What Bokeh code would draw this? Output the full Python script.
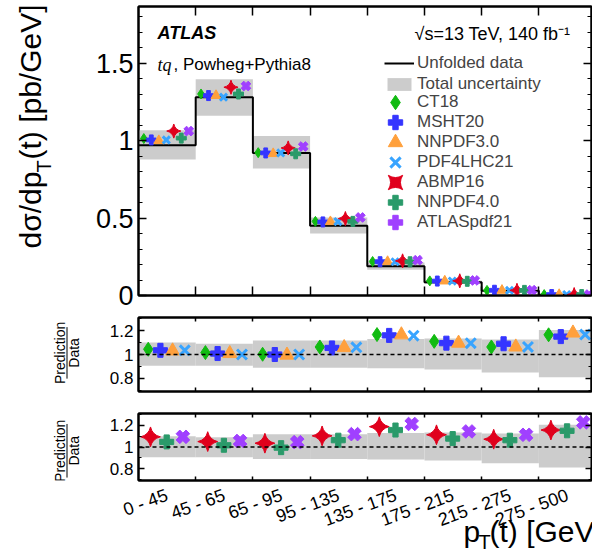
import numpy as np
from bokeh.plotting import figure
from bokeh.models import (ColumnDataSource, Range1d, FixedTicker, LinearAxis, Label,
                          Legend, LegendItem, Span, CustomJSTickFormatter)
from bokeh.layouts import column, row
from bokeh.embed import file_html
from bokeh.resources import INLINE
from bokeh.core.properties import value

# ---------------- data ----------------
bins = ["0 - 45", "45 - 65", "65 - 95", "95 - 135", "135 - 175", "175 - 215", "215 - 275", "275 - 500"]
data = [0.97, 1.28, 0.92, 0.45, 0.188, 0.085, 0.031, 0.005]
unc_up = [0.100, 0.090, 0.118, 0.118, 0.130, 0.135, 0.125, 0.206]
unc_dn = [0.095, 0.094, 0.110, 0.110, 0.115, 0.125, 0.150, 0.190]

pdf_names = ["CT18", "MSHT20", "NNPDF3.0", "PDF4LHC21", "ABMP16", "NNPDF4.0", "ATLASpdf21"]
ratio_ct18 = [1.044, 1.016, 1.002, 1.063, 1.167, 1.110, 1.063, 1.165]
ratio_msht20 = [1.035, 1.008, 1.000, 1.055, 1.160, 1.095, 1.090, 1.150]
ratio_nnpdf30 = [1.030, 1.008, 0.995, 1.058, 1.165, 1.095, 1.063, 1.180]
ratio_pdf4lhc21 = [1.035, 1.000, 1.000, 1.060, 1.158, 1.095, 1.063, 1.167]
ratio_abmp16 = [1.094, 1.050, 1.035, 1.103, 1.188, 1.113, 1.072, 1.157]
ratio_nnpdf40 = [1.047, 1.016, 0.994, 1.063, 1.157, 1.078, 1.063, 1.150]
ratio_atlaspdf21 = [1.094, 1.056, 1.045, 1.119, 1.213, 1.144, 1.113, 1.228]
ratios = [ratio_ct18, ratio_msht20, ratio_nnpdf30, ratio_pdf4lhc21,
          ratio_abmp16, ratio_nnpdf40, ratio_atlaspdf21]

main_ticks = [0, 0.5, 1, 1.5]
main_minor = [0.1, 0.2, 0.3, 0.4, 0.6, 0.7, 0.8, 0.9, 1.1, 1.2, 1.3, 1.4, 1.6, 1.7, 1.8]
ratio_ticks = [0.8, 1, 1.2]
ratio_minor = [0.7, 0.9, 1.1, 1.3]

# ---------------- style / layout ----------------
FONT = "Liberation Sans"
TW = 90            # width of the left title strip
PW = 502           # width of each panel figure
BL = 48            # panel left border (frame starts at TW+BL)
FW = 453           # frame width
X_END = 7.92
PX_PER_BIN = FW / X_END

styles = [
    dict(marker="diamond", color="#12bb12", angle=0.0, lw=1, fill=True),
    dict(marker="plus", color="#3535ff", angle=0.0, lw=1, fill=True),
    dict(marker="triangle", color="#ffa03c", angle=0.0, lw=1, fill=True),
    dict(marker="x", color="#38a4ff", angle=0.0, lw=3, fill=False),
    dict(marker="square_pin", color="#e0001c", angle=np.pi / 4, lw=1, fill=True),
    dict(marker="plus", color="#2a9a6a", angle=0.0, lw=1, fill=True),
    dict(marker="plus", color="#a040ff", angle=np.pi / 4, lw=1, fill=True),
]

n = len(bins)
edges = np.arange(n + 1, dtype=float)
left = edges[:-1]
data_a = np.array(data)
up_a = np.array(unc_up)
dn_a = np.array(unc_dn)


def style_axis(ax, ticks, minor, tl, ml, labels=False, fs="27px", standoff=5):
    ax.ticker = FixedTicker(ticks=list(ticks), minor_ticks=list(minor))
    ax.major_tick_in = tl
    ax.major_tick_out = 0
    ax.minor_tick_in = ml
    ax.minor_tick_out = 0
    ax.axis_line_width = 2
    ax.axis_line_color = "black"
    ax.major_tick_line_width = 1.5
    ax.minor_tick_line_width = 1.2
    ax.major_tick_line_color = "black"
    ax.minor_tick_line_color = "black"
    if labels:
        ax.formatter = CustomJSTickFormatter(code="return String(Math.round(tick*100)/100);")
        ax.major_label_text_font = FONT
        ax.major_label_text_font_size = fs
        ax.major_label_text_color = "black"
        ax.major_label_standoff = standoff
    else:
        ax.major_label_text_font_size = "0px"
        ax.major_label_standoff = 0
        ax.formatter = CustomJSTickFormatter(code="return '';")


def make_fig(height, yr, bt, bb, xtl, ytl, ymtl, yticks, yminor, yfs):
    p = figure(width=PW, height=height, x_range=Range1d(0, X_END), y_range=Range1d(*yr),
               output_backend="svg", toolbar_location=None,
               min_border_left=BL, min_border_right=1, min_border_top=bt, min_border_bottom=bb)
    p.xgrid.grid_line_color = None
    p.ygrid.grid_line_color = None
    p.outline_line_color = "black"
    p.outline_line_width = 2
    p.background_fill_color = "white"
    p.border_fill_color = "white"
    style_axis(p.xaxis[0], edges[1:-1], [], xtl, 0)
    style_axis(p.yaxis[0], yticks, yminor, ytl, ymtl, labels=True, fs=yfs)
    top = LinearAxis()
    style_axis(top, edges[1:-1], [], xtl, 0)
    p.add_layout(top, "above")
    right = LinearAxis()
    style_axis(right, yticks, yminor, ytl, ymtl)
    p.add_layout(right, "right")
    return p


def helper_fig(width, height, xr=None):
    f = figure(width=width, height=height,
               x_range=xr if xr is not None else Range1d(0, width), y_range=Range1d(0, height),
               x_axis_location=None, y_axis_location=None, output_backend="svg",
               toolbar_location=None, min_border=0, outline_line_color=None)
    f.grid.visible = False
    f.background_fill_color = "white"
    f.border_fill_color = "white"
    return f


def add_markers(p, idxs, fracs, size, use_ratio):
    out = []
    for k, i in enumerate(idxs):
        st = styles[i]
        xs = left + fracs[k]
        ys = np.array(ratios[i]) * (1.0 if use_ratio else data_a)
        src = ColumnDataSource(dict(x=xs, y=ys))
        r = p.scatter("x", "y", source=src, marker=st["marker"], size=size, angle=st["angle"],
                      fill_color=st["color"] if st["fill"] else None, line_color=st["color"],
                      line_width=st["lw"] if not st["fill"] else 1)
        out.append(r)
    return out


def lab(p, text, x, y, fs, font=FONT, style="normal", angle=0.0, align="left", baseline="middle"):
    p.add_layout(Label(text=text, x=x, y=y, x_units="screen", y_units="screen",
                       text_font=font, text_font_size=fs, text_font_style=style,
                       angle=angle, text_align=align, text_baseline=baseline, text_color="black"))


# ---------------- main panel ----------------
H1 = 310
p1 = make_fig(H1, (0, 1.865), 6, 15, 9, 8, 4, main_ticks, main_minor, "27px")
band_src = ColumnDataSource(dict(left=left, right=edges[1:], bottom=data_a * (1 - dn_a), top=data_a * (1 + up_a)))
band = p1.quad(left="left", right="right", bottom="bottom", top="top", source=band_src,
               fill_color="#cccccc", line_color=None)
step = p1.step(x=list(edges), y=list(data) + [data[-1]], mode="after", line_color="black", line_width=2)

fr_main = [0.093 + 0.131 * i for i in range(7)]
rends = add_markers(p1, list(range(7)), fr_main, 10, False)

leg_common = dict(padding=0, margin=0, border_line_color=None, background_fill_alpha=0,
                  label_text_font=FONT, label_text_font_size="17px")
legA = Legend(items=[LegendItem(label="Unfolded data", renderers=[step]),
                     LegendItem(label="Total uncertainty", renderers=[band])],
              location=(246, 201), glyph_width=30, glyph_height=16, label_height=21, spacing=0,
              label_standoff=3, **leg_common)
legB1 = Legend(items=[LegendItem(label=pdf_names[i], renderers=[rends[i]]) for i in (0, 2, 4, 6)],
               location=(239, 55), glyph_width=36, glyph_height=36, label_height=36, spacing=4,
               label_standoff=4, **leg_common)
legB2 = Legend(items=[LegendItem(label=pdf_names[i], renderers=[rends[i]]) for i in (1, 3, 5)],
               location=(239, 75), glyph_width=36, glyph_height=36, label_height=36, spacing=4,
               label_standoff=4, **leg_common)
for lg in (legA, legB1, legB2):
    p1.add_layout(lg)

lab(p1, "ATLAS", 19, 263, "18px", style="bold italic")
lab(p1, "tq", 19, 231, "18px", font="Liberation Serif", style="italic")
lab(p1, ", Powheg+Pythia8", 35, 231, "17px")
lab(p1, "√s=13 TeV, 140 fb⁻¹", 276, 262, "18px")

t1 = helper_fig(TW, H1)
lab(t1, "dσ/dp", 30, H1 - 263, "30px", angle=np.pi / 2)
lab(t1, "T", 43, H1 - 263 + 76, "20px", angle=np.pi / 2)
lab(t1, "(t)  [pb/GeV]", 30, H1 - 263 + 89, "30px", angle=np.pi / 2)


# ---------------- ratio panels ----------------
def ratio_panel(height, bt, bb, idxs, fracs):
    p = make_fig(height, (0.69, 1.31), bt, bb, 4, 6, 3, ratio_ticks, ratio_minor, "17px")
    src = ColumnDataSource(dict(left=left, right=edges[1:], bottom=1 - dn_a, top=1 + up_a))
    p.quad(left="left", right="right", bottom="bottom", top="top", source=src,
           fill_color="#cccccc", line_color=None)
    p.add_layout(Span(location=1, dimension="width", line_color="black", line_width=1.5, line_dash="4 3"))
    add_markers(p, idxs, fracs, 14, True)
    t = helper_fig(TW, height)
    c = bb + (height - bt - bb) / 2
    t.text(x=[59.5, 73.5], y=[c, c], text=["Prediction", "Data"], angle=np.pi / 2,
           text_align="center", text_baseline="middle", text_font=value(FONT),
           text_font_size="14px", text_color="black")
    t.segment(x0=[66.5], y0=[c - 32], x1=[66.5], y1=[c + 32], line_color="black", line_width=1)
    return t, p


t2, p2 = ratio_panel(92, 7, 11, [0, 1, 2, 3], [0.17 + 0.213 * i for i in range(4)])
H3 = 80
t3, p3 = ratio_panel(H3, 11, 2, [4, 5, 6], [0.21 + 0.283 * i for i in range(3)])

# ---------------- x tick labels and x title ----------------
H4 = 73
x0 = TW + BL
xf = helper_fig(592, H4, xr=Range1d(-x0 / PX_PER_BIN, (592 - x0) / PX_PER_BIN))
lab_src = ColumnDataSource(dict(x=left + 0.5, y=np.full(n, H4 - 12.0), t=bins))
xf.text(x="x", y="y", text="t", source=lab_src, angle=0.35, text_align="right", text_baseline="middle",
        text_font=value(FONT), text_font_size="18px", text_color="black")
lab(xf, "p", 463, 24, "30px")
lab(xf, "T", 478, 14, "20px")
lab(xf, "(t) [GeV]", 489, 24, "30px")

layout = column(row(t1, p1, spacing=0), row(t2, p2, spacing=0), row(t3, p3, spacing=0), xf, spacing=0)
open("out.html", "w").write(file_html(layout, INLINE))
